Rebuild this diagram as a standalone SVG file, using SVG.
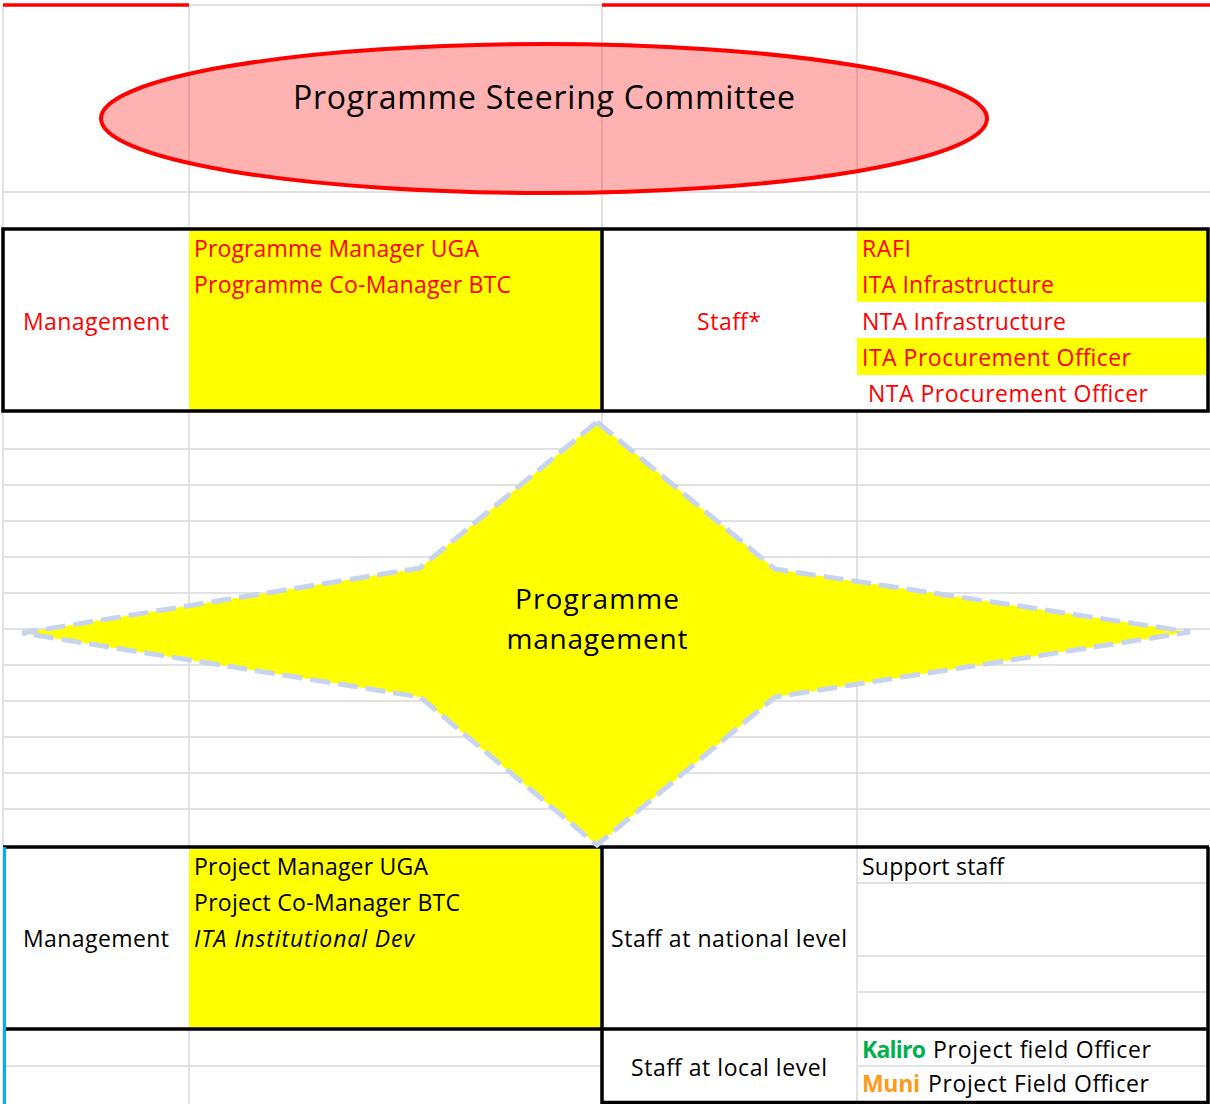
<svg xmlns="http://www.w3.org/2000/svg" width="1210" height="1104" viewBox="0 0 1210 1104">
  <style>
    .grid { stroke: #d9d9d9; stroke-width: 1.5; fill: none; }
    .edge { stroke: #000000; stroke-width: 3.5; fill: none; }
    .txt { font-family: "Open Sans", "Liberation Sans", sans-serif; font-size: 23px; }
    .red { fill: #ff0000; }
    .blk { fill: #000000; }
    .mid { text-anchor: middle; }
  </style>

  <rect x="0" y="0" width="1210" height="1104" fill="#ffffff"/>

  <!-- sheet gridlines -->
  <g id="grid">
    <path class="grid" d="M3,5V1104 M189,5V1104 M602,5V1104 M857,5V1104"/>
    <path class="grid" d="M3,5H1210 M3,192H1210 M3,229H1210"/>
    <path class="grid" d="M3,449H1210 M3,485H1210 M3,521H1210 M3,557H1210 M3,593H1210 M3,629H1210 M3,665H1210 M3,701H1210 M3,737H1210 M3,773H1210 M3,809H1210"/>
    <path d="M3,5H189 M602,5H1210" stroke="#ff0000" stroke-width="3.5" fill="none"/>
  </g>

  <g id="connectors"/>

  <!-- steering committee -->
  <g id="steering-committee">
    <ellipse cx="544" cy="118.5" rx="443" ry="74.5" fill="#ff0000" fill-opacity="0.3" stroke="#ff0000" stroke-width="4"/>
    <text class="txt mid" x="544" y="109" style="font-size:32px" textLength="502" fill="#000000">Programme Steering Committee</text>
  </g>

  <!-- programme management block -->
  <g id="programme-management">
    <rect x="3" y="229" width="1205" height="182" fill="#ffffff"/>
    <rect x="189" y="231" width="412" height="179" fill="#ffff00"/>
    <rect x="857" y="231" width="351" height="71" fill="#ffff00"/>
    <rect x="857" y="338" width="351" height="37" fill="#ffff00"/>
    <rect class="edge" x="3" y="229" width="1205" height="182"/>
    <path class="edge" d="M602,229V411"/>
    <text class="txt red mid" x="96" y="330" textLength="146">Management</text>
    <text class="txt red" x="194" y="257" textLength="285">Programme Manager UGA</text>
    <text class="txt red" x="194" y="293" textLength="317">Programme Co-Manager BTC</text>
    <text class="txt red mid" x="729" y="330" textLength="64">Staff*</text>
    <text class="txt red" x="862" y="257" textLength="49">RAFI</text>
    <text class="txt red" x="862" y="293" textLength="192">ITA Infrastructure</text>
    <text class="txt red" x="862" y="330" textLength="204">NTA Infrastructure</text>
    <text class="txt red" x="862" y="366" textLength="269">ITA Procurement Officer</text>
    <text class="txt red" x="868" y="402" textLength="280">NTA Procurement Officer</text>
  </g>

  <!-- project management block -->
  <g id="project-management">
    <rect x="3" y="847" width="1205" height="257" fill="#ffffff"/>
    <rect x="189" y="849" width="412" height="178" fill="#ffff00"/>
    <path class="grid" d="M857,847V1104 M189,1029V1104 M857,883H1208 M857,956H1208 M857,992H1208 M5,1066H602 M857,1066H1208"/>
    <path class="edge" d="M3,847H1209 M3,1029H1209 M602,847V1104 M602,1102.5H1209 M1208,847V1104"/>
    <path d="M4.5,847V1104" stroke="#00b0f0" stroke-width="3" fill="none"/>
    <text class="txt blk mid" x="96" y="947" textLength="146">Management</text>
    <text class="txt blk" x="194" y="875" textLength="234">Project Manager UGA</text>
    <text class="txt blk" x="194" y="911" textLength="266">Project Co-Manager BTC</text>
    <text class="txt blk" x="194" y="947" textLength="220" font-style="italic">ITA Institutional Dev</text>
    <text class="txt blk mid" x="729" y="947" textLength="236">Staff at national level</text>
    <text class="txt blk" x="862" y="875" textLength="142">Support staff</text>
    <text class="txt blk mid" x="729" y="1076" textLength="196">Staff at local level</text>
    <text class="txt blk" y="1058"><tspan x="862" fill="#00b050" font-weight="bold" textLength="64">Kaliro</tspan><tspan x="933" textLength="218">Project field Officer</tspan></text>
    <text class="txt blk" y="1092"><tspan x="862" fill="#ff9a1a" font-weight="bold" textLength="58">Muni</tspan><tspan x="928" textLength="221">Project Field Officer</tspan></text>
  </g>

  <!-- programme management star -->
  <g id="programme-management-star">
    <polygon points="597,422 775,569 1190,632 775,697 597,845 420,697 22,633 420,568" fill="#ffff00" stroke="#c6d4ee" stroke-width="5" stroke-dasharray="20 8" stroke-linejoin="miter"/>
    <text class="txt blk mid" x="597" y="609" style="font-size:28px" textLength="164">Programme</text>
    <text class="txt blk mid" x="597" y="649" style="font-size:28px" textLength="181">management</text>
  </g>
</svg>
